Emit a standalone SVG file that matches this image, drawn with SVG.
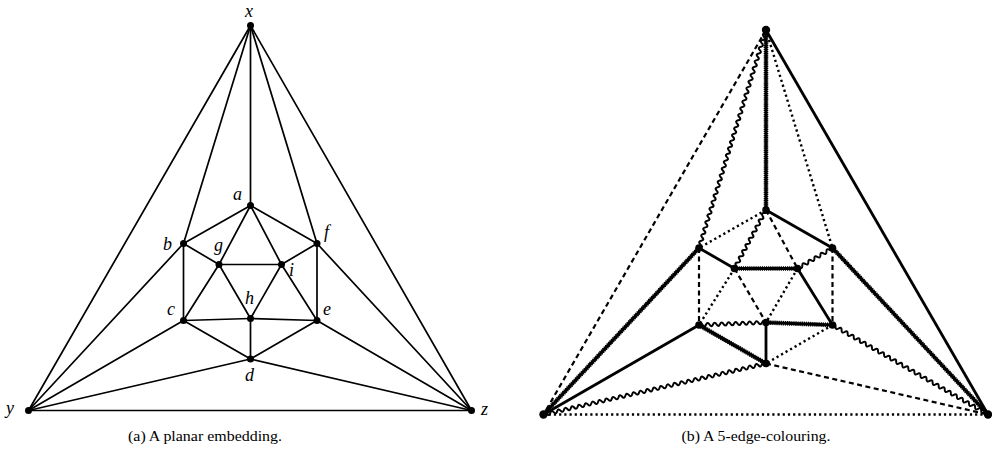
<svg xmlns="http://www.w3.org/2000/svg" xmlns:xlink="http://www.w3.org/1999/xlink" width="992" height="458" viewBox="0 0 992 458">
<style>
.e{stroke:#000;stroke-width:1.7;fill:none;stroke-linecap:round}
.so{stroke:#000;stroke-width:2.8;fill:none}
.da{stroke:#000;stroke-width:2.2;fill:none;stroke-dasharray:5 3.5}
.do{stroke:#000;stroke-width:2.4;fill:none;stroke-dasharray:2.2 3}
.co{stroke:#000;stroke-width:3.2;fill:none}
.coe{stroke:#000;stroke-width:4.6;fill:none;stroke-dasharray:1.2 0.9}
.sn{stroke:#000;stroke-width:2;fill:none}
.n{fill:#000}
.lb{font-family:"Liberation Serif",serif;font-style:italic;font-size:18px;fill:#000}
.cap{font-family:"Liberation Serif",serif;font-size:15px;fill:#000;text-anchor:middle}
</style>
<defs>
<path id="wave" class="sn" d="M0,0 q1.75,-3.2 3.5,0 t3.5,0 t3.5,0 t3.5,0 t3.5,0 t3.5,0 t3.5,0 t3.5,0 t3.5,0 t3.5,0 t3.5,0 t3.5,0 t3.5,0 t3.5,0 t3.5,0 t3.5,0 t3.5,0 t3.5,0 t3.5,0 t3.5,0 t3.5,0 t3.5,0 t3.5,0 t3.5,0 t3.5,0 t3.5,0 t3.5,0 t3.5,0 t3.5,0 t3.5,0 t3.5,0 t3.5,0 t3.5,0 t3.5,0 t3.5,0 t3.5,0 t3.5,0 t3.5,0 t3.5,0 t3.5,0 t3.5,0 t3.5,0 t3.5,0 t3.5,0 t3.5,0 t3.5,0 t3.5,0 t3.5,0 t3.5,0 t3.5,0 t3.5,0 t3.5,0 t3.5,0 t3.5,0 t3.5,0 t3.5,0 t3.5,0 t3.5,0 t3.5,0 t3.5,0 t3.5,0 t3.5,0 t3.5,0 t3.5,0 t3.5,0 t3.5,0 t3.5,0 t3.5,0 t3.5,0 t3.5,0 t3.5,0"/>
</defs>

<g id="connectors-a">
<line class="e" x1="250.5" y1="25.5" x2="28.5" y2="410.5"/>
<line class="e" x1="250.5" y1="25.5" x2="471.5" y2="410.5"/>
<line class="e" x1="28.5" y1="410.5" x2="471.5" y2="410.5"/>
<line class="e" x1="250.5" y1="25.5" x2="250.5" y2="205.5"/>
<line class="e" x1="250.5" y1="25.5" x2="183.5" y2="243.5"/>
<line class="e" x1="250.5" y1="25.5" x2="317" y2="243.5"/>
<line class="e" x1="28.5" y1="410.5" x2="183.5" y2="243.5"/>
<line class="e" x1="28.5" y1="410.5" x2="183.5" y2="320.5"/>
<line class="e" x1="28.5" y1="410.5" x2="250.5" y2="359"/>
<line class="e" x1="471.5" y1="410.5" x2="317" y2="243.5"/>
<line class="e" x1="471.5" y1="410.5" x2="317" y2="320.5"/>
<line class="e" x1="471.5" y1="410.5" x2="250.5" y2="359"/>
<line class="e" x1="250.5" y1="205.5" x2="183.5" y2="243.5"/>
<line class="e" x1="250.5" y1="205.5" x2="317" y2="243.5"/>
<line class="e" x1="250.5" y1="205.5" x2="219" y2="264.5"/>
<line class="e" x1="250.5" y1="205.5" x2="281.5" y2="264.5"/>
<line class="e" x1="183.5" y1="243.5" x2="219" y2="264.5"/>
<line class="e" x1="183.5" y1="243.5" x2="183.5" y2="320.5"/>
<line class="e" x1="317" y1="243.5" x2="281.5" y2="264.5"/>
<line class="e" x1="317" y1="243.5" x2="317" y2="320.5"/>
<line class="e" x1="219" y1="264.5" x2="281.5" y2="264.5"/>
<line class="e" x1="219" y1="264.5" x2="250.5" y2="318.5"/>
<line class="e" x1="219" y1="264.5" x2="183.5" y2="320.5"/>
<line class="e" x1="281.5" y1="264.5" x2="250.5" y2="318.5"/>
<line class="e" x1="281.5" y1="264.5" x2="317" y2="320.5"/>
<line class="e" x1="183.5" y1="320.5" x2="250.5" y2="318.5"/>
<line class="e" x1="183.5" y1="320.5" x2="250.5" y2="359"/>
<line class="e" x1="250.5" y1="318.5" x2="317" y2="320.5"/>
<line class="e" x1="250.5" y1="318.5" x2="250.5" y2="359"/>
<line class="e" x1="317" y1="320.5" x2="250.5" y2="359"/>
</g>

<g id="node-x"><circle class="n" cx="250.5" cy="25.5" r="3.5"/><text class="lb" x="245" y="17">x</text></g>
<g id="node-y"><circle class="n" cx="28.5" cy="410.5" r="3.5"/><text class="lb" x="6" y="414">y</text></g>
<g id="node-z"><circle class="n" cx="471.5" cy="410.5" r="3.5"/><text class="lb" x="481" y="415">z</text></g>
<g id="node-a"><circle class="n" cx="250.5" cy="205.5" r="3.5"/><text class="lb" x="233" y="200">a</text></g>
<g id="node-b"><circle class="n" cx="183.5" cy="243.5" r="3.5"/><text class="lb" x="163" y="250">b</text></g>
<g id="node-f"><circle class="n" cx="317" cy="243.5" r="3.5"/><text class="lb" x="324" y="238">f</text></g>
<g id="node-g"><circle class="n" cx="219" cy="264.5" r="3.5"/><text class="lb" x="214" y="251">g</text></g>
<g id="node-i"><circle class="n" cx="281.5" cy="264.5" r="3.5"/><text class="lb" x="289" y="276">i</text></g>
<g id="node-c"><circle class="n" cx="183.5" cy="320.5" r="3.5"/><text class="lb" x="167" y="315">c</text></g>
<g id="node-h"><circle class="n" cx="250.5" cy="318.5" r="3.5"/><text class="lb" x="245" y="304">h</text></g>
<g id="node-e"><circle class="n" cx="317" cy="320.5" r="3.5"/><text class="lb" x="323" y="315">e</text></g>
<g id="node-d"><circle class="n" cx="250.5" cy="359" r="3.5"/><text class="lb" x="245" y="381">d</text></g>

<g id="connectors-b">
<line class="so" x1="766" y1="30" x2="988" y2="414.5"/>
<line class="so" x1="766" y1="210" x2="832.5" y2="248"/>
<line class="so" x1="699" y1="248" x2="734.5" y2="268.5"/>
<line class="so" x1="797.5" y1="268.5" x2="832.5" y2="325"/>
<line class="so" x1="699" y1="325" x2="543.5" y2="414.5"/>
<line class="so" x1="766" y1="322.5" x2="766" y2="363.5"/>
<line class="da" x1="766" y1="30" x2="543.5" y2="414.5"/>
<line class="da" x1="766" y1="210" x2="797.5" y2="268.5"/>
<line class="da" x1="699" y1="248" x2="699" y2="325"/>
<line class="da" x1="832.5" y1="248" x2="832.5" y2="325"/>
<line class="da" x1="734.5" y1="268.5" x2="766" y2="322.5"/>
<line class="da" x1="766" y1="363.5" x2="988" y2="414.5"/>
<line class="do" x1="543.5" y1="414.5" x2="988" y2="414.5"/>
<line class="do" x1="766" y1="30" x2="832.5" y2="248"/>
<line class="do" x1="766" y1="210" x2="699" y2="248"/>
<line class="do" x1="734.5" y1="268.5" x2="699" y2="325"/>
<line class="do" x1="797.5" y1="268.5" x2="766" y2="322.5"/>
<line class="do" x1="832.5" y1="325" x2="766" y2="363.5"/>
<line class="co" x1="766" y1="30" x2="766" y2="210"/>
<line class="coe" x1="766" y1="30" x2="766" y2="210"/>
<line class="co" x1="699" y1="248" x2="543.5" y2="414.5"/>
<line class="coe" x1="699" y1="248" x2="543.5" y2="414.5"/>
<line class="co" x1="832.5" y1="248" x2="988" y2="414.5"/>
<line class="coe" x1="832.5" y1="248" x2="988" y2="414.5"/>
<line class="co" x1="734.5" y1="268.5" x2="797.5" y2="268.5"/>
<line class="coe" x1="734.5" y1="268.5" x2="797.5" y2="268.5"/>
<line class="co" x1="766" y1="322.5" x2="832.5" y2="325"/>
<line class="coe" x1="766" y1="322.5" x2="832.5" y2="325"/>
<line class="co" x1="699" y1="325" x2="766" y2="363.5"/>
<line class="coe" x1="699" y1="325" x2="766" y2="363.5"/>
<g transform="translate(766,30) rotate(107.08)"><svg x="0" y="-6" width="228.1" height="12"><use href="#wave" xlink:href="#wave" y="6"/></svg></g>
<g transform="translate(766,210) rotate(118.3)"><svg x="0" y="-6" width="66.44" height="12"><use href="#wave" xlink:href="#wave" y="6"/></svg></g>
<g transform="translate(832.5,248) rotate(149.64)"><svg x="0" y="-6" width="40.56" height="12"><use href="#wave" xlink:href="#wave" y="6"/></svg></g>
<g transform="translate(699,325) rotate(-2.14)"><svg x="0" y="-6" width="67.05" height="12"><use href="#wave" xlink:href="#wave" y="6"/></svg></g>
<g transform="translate(543.5,414.5) rotate(-12.91)"><svg x="0" y="-6" width="228.27" height="12"><use href="#wave" xlink:href="#wave" y="6"/></svg></g>
<g transform="translate(832.5,325) rotate(29.92)"><svg x="0" y="-6" width="179.42" height="12"><use href="#wave" xlink:href="#wave" y="6"/></svg></g>
</g>

<g id="node-X"><circle class="n" cx="766" cy="30" r="4.2"/></g>
<g id="node-Y"><circle class="n" cx="543.5" cy="414.5" r="4.2"/></g>
<g id="node-Z"><circle class="n" cx="988" cy="414.5" r="4.2"/></g>
<g id="node-A"><circle class="n" cx="766" cy="210" r="3.8"/></g>
<g id="node-B"><circle class="n" cx="699" cy="248" r="3.8"/></g>
<g id="node-F"><circle class="n" cx="832.5" cy="248" r="3.8"/></g>
<g id="node-G"><circle class="n" cx="734.5" cy="268.5" r="3.8"/></g>
<g id="node-I"><circle class="n" cx="797.5" cy="268.5" r="3.8"/></g>
<g id="node-C"><circle class="n" cx="699" cy="325" r="3.8"/></g>
<g id="node-H"><circle class="n" cx="766" cy="322.5" r="3.8"/></g>
<g id="node-E"><circle class="n" cx="832.5" cy="325" r="3.8"/></g>
<g id="node-D"><circle class="n" cx="766" cy="363.5" r="3.8"/></g>

<text class="cap" x="205" y="441" textLength="154" lengthAdjust="spacingAndGlyphs">(a) A planar embedding.</text>
<text class="cap" x="756" y="441" textLength="149" lengthAdjust="spacingAndGlyphs">(b) A 5-edge-colouring.</text>
</svg>
